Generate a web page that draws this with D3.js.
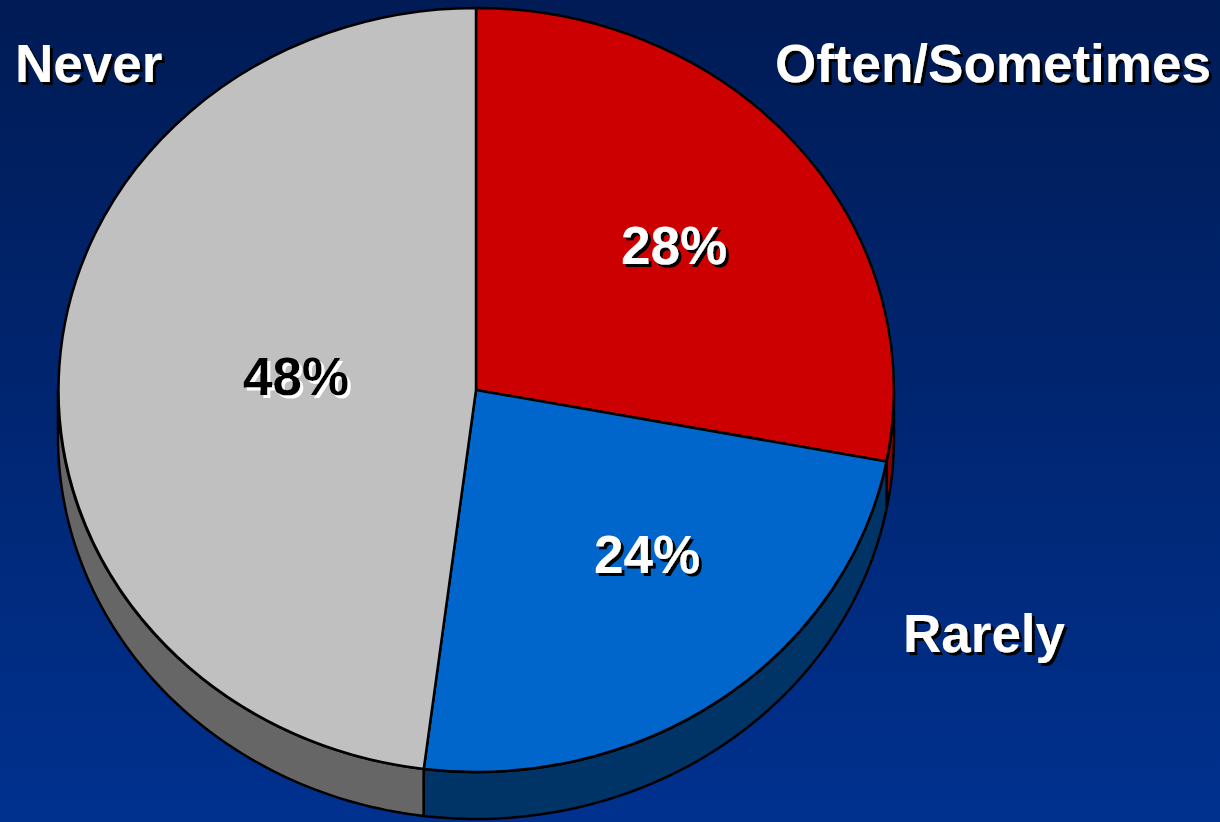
<!DOCTYPE html>
<html>
<head>
<meta charset="utf-8">
<script src="https://cdn.jsdelivr.net/npm/d3@7"></script>
<style>
  html, body { margin: 0; padding: 0; background: #001e5c; }
  svg { display: block; }
  text { font-family: "Liberation Sans", Arial, sans-serif; font-weight: bold; }
</style>
</head>
<body>
<svg id="chart" width="1220" height="822"></svg>
<script>
// Survey answers and their shares (%)
const categories = ["Often/Sometimes", "Rarely", "Never"];
const shares = [28, 24, 48];
const topColors = ["#cc0000", "#0066cc", "#c0c0c0"];
const sideColors = ["#8c0000", "#003366", "#666666"];
const valueTextColors = ["#ffffff", "#ffffff", "#000000"];
const valueShadowColors = ["#000000", "#000000", "#ffffff"];

const W = 1220, H = 822;
const cx = 476, cy = 390, rx = 418, ry = 382, depth = 47;

// Where the text for each slice sits
const valueAnchor = [[674, 264], [647, 573], [296, 395]];
const nameAnchor = [[775, 82], [903, 652], [15, 82]];

const svg = d3.select("#chart");

const defs = svg.append("defs");
const bg = defs.append("linearGradient").attr("id", "bg")
  .attr("x1", 0).attr("y1", 0).attr("x2", 0).attr("y2", 1);
bg.append("stop").attr("offset", "0%").attr("stop-color", "#001b55");
bg.append("stop").attr("offset", "100%").attr("stop-color", "#00318f");
svg.append("rect").attr("width", W).attr("height", H).attr("fill", "url(#bg)");

// Hard offset shadows for the text
function shadowFilter(id, color) {
  const f = defs.append("filter").attr("id", id)
    .attr("x", "-10%").attr("y", "-20%").attr("width", "130%").attr("height", "150%");
  f.append("feOffset").attr("in", "SourceAlpha").attr("dx", 3).attr("dy", 3).attr("result", "off");
  f.append("feFlood").attr("flood-color", color).attr("result", "col");
  f.append("feComposite").attr("in", "col").attr("in2", "off").attr("operator", "in").attr("result", "sh");
  const m = f.append("feMerge");
  m.append("feMergeNode").attr("in", "sh");
  m.append("feMergeNode").attr("in", "SourceGraphic");
}
shadowFilter("shadow-dark", "#000000");
shadowFilter("shadow-light", "#ffffff");

const pie = d3.pie().sort(null).value(d => d)(shares);

// Ellipse point for an angle measured clockwise from 12 o'clock
const pt = (a, dy = 0) => [cx + rx * Math.sin(a), cy - ry * Math.cos(a) + dy];

function sidePath(a0, a1) {
  const n = 80, p = d3.path();
  for (let i = 0; i <= n; i++) {
    const [x, y] = pt(a0 + (a1 - a0) * i / n);
    i === 0 ? p.moveTo(x, y) : p.lineTo(x, y);
  }
  for (let i = n; i >= 0; i--) {
    const [x, y] = pt(a0 + (a1 - a0) * i / n, depth);
    p.lineTo(x, y);
  }
  p.closePath();
  return p.toString();
}

// Visible rim: the front half of the disc, from 3 o'clock to 9 o'clock
const front0 = Math.PI / 2, front1 = 3 * Math.PI / 2;
const sides = svg.append("g");
pie.forEach((s, i) => {
  const a0 = Math.max(s.startAngle, front0), a1 = Math.min(s.endAngle, front1);
  if (a1 > a0) {
    sides.append("path").attr("d", sidePath(a0, a1))
      .attr("fill", sideColors[i]).attr("stroke", "#000")
      .attr("stroke-width", 2.5).attr("stroke-linejoin", "round");
  }
});

// Top face: unit arcs stretched into the ellipse
const arc = d3.arc().innerRadius(0).outerRadius(1);
svg.append("g")
  .attr("transform", `translate(${cx},${cy}) scale(${rx},${ry})`)
  .selectAll("path").data(pie).join("path")
  .attr("d", arc)
  .attr("fill", (d, i) => topColors[i])
  .attr("stroke", "#000").attr("stroke-width", 2.5)
  .attr("vector-effect", "non-scaling-stroke")
  .attr("stroke-linejoin", "round");

function label(x, y, txt, fill, shadowId, anchor) {
  svg.append("text").attr("x", x).attr("y", y).attr("text-anchor", anchor)
    .style("font-size", "53px")
    .attr("fill", fill).attr("filter", `url(#${shadowId})`).text(txt);
}

pie.forEach((s, i) => {
  label(valueAnchor[i][0], valueAnchor[i][1], shares[i] + "%",
    valueTextColors[i], valueShadowColors[i] === "#000000" ? "shadow-dark" : "shadow-light", "middle");
  label(nameAnchor[i][0], nameAnchor[i][1], categories[i],
    "#ffffff", "shadow-dark", "start");
});
</script>
</body>
</html>
